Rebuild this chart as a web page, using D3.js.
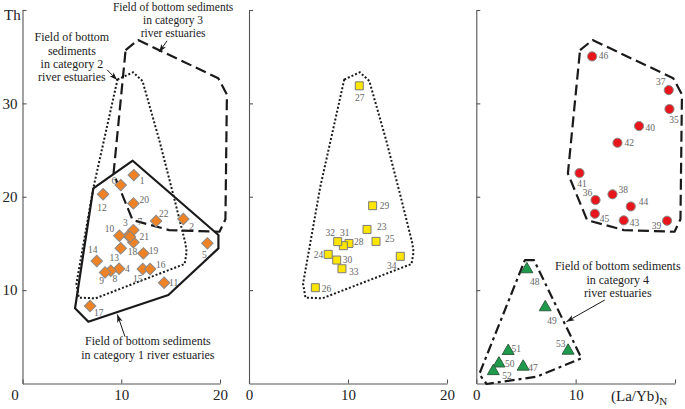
<!DOCTYPE html>
<html><head><meta charset="utf-8">
<script src="https://cdn.jsdelivr.net/npm/d3@7"></script>
<style>
body{margin:0;background:#fff}
svg{display:block}
text{font-family:"Liberation Serif","Times New Roman",serif}
</style>
</head><body>
<svg id="chart" width="685" height="409"></svg>
<script>
// ---------------- DATA ----------------
// Category 1 (orange diamonds) - left panel
const cat1Ids = [1,2,3,4,5,6,7,8,9,10,11,12,13,14,15,16,17,18,19,20,21,22];
const cat1X = [11.27,16.29,10.72,9.78,18.72,9.95,11.23,8.94,8.36,9.81,14.34,8.16,9.95,7.52,12.18,12.92,6.84,11.23,12.24,11.23,10.89,13.53];
const cat1Y = [22.32,17.61,15.82,12.29,15.01,21.25,16.43,12.08,11.90,15.82,10.79,20.26,14.48,13.12,12.26,12.26,8.30,15.12,13.94,19.29,15.72,17.40];
// Category 2 (yellow squares) - middle panel
const cat2Ids = [23,24,25,26,27,28,29,30,31,32,33,34];
const cat2X = [11.92,8.00,12.83,6.70,11.14,10.10,12.49,8.86,9.53,8.96,9.39,15.28];
const cat2Y = [16.50,13.83,15.22,10.26,31.88,15.00,19.04,13.22,14.76,15.19,12.29,13.62];
// Category 3 (red circles) - right panel
const cat3Ids = [35,36,37,38,39,40,41,42,43,44,45,46];
const cat3X = [19.44,12.00,19.37,13.71,19.20,16.38,10.39,14.21,14.84,15.55,11.93,11.66];
const cat3Y = [29.39,19.65,31.42,20.26,17.43,27.57,22.54,25.78,17.47,18.96,18.18,35.03];
// Category 4 (green triangles) - right panel
const cat4Ids = [47,48,49,50,51,52,53];
const cat4X = [4.72,5.09,6.94,2.28,3.21,1.71,9.24];
const cat4Y = [1.80,12.23,8.16,2.14,3.48,1.32,3.51];

// Field outlines (La/Yb)N, Th
const field1X = [11.16,19.84,19.84,14.77,6.67,5.32,7.17];
const field1Y = [23.86,15.90,14.47,9.48,6.62,8.05,20.90];
const field2X = [9.62,11.20,12.15,13.85,15.28,16.50,16.62,16.42,12.24,7.40,5.70,5.46,7.20];
const field2Y = [32.55,33.33,32.40,26.07,20.18,15.01,14.08,12.80,11.10,9.12,9.20,10.70,21.07];
const field3X = [10.44,11.70,19.82,20.70,20.55,19.95,14.85,11.15,9.22];
const field3Y = [35.70,36.78,32.70,30.95,17.60,16.25,16.43,17.50,22.50];
const field4X = [4.89,5.80,10.59,6.07,1.04,0.30];
const field4Y = [13.22,13.22,2.70,0.73,-0.05,1.00];

// Axis ticks
const xTicks = [0,10,20];
const yTicks = [10,20,30,40];
const yTickLabels = ["10","20","30",""];

// ---------------- LAYOUT / STYLE ----------------
const svg = d3.select("#chart");
const y = d3.scaleLinear().domain([0,40]).range([383.5,10]);
const xL = d3.scaleLinear().domain([0,20]).range([22.5,220]);
const xM = d3.scaleLinear().domain([0,20]).range([249,447]);
const xR = d3.scaleLinear().domain([0,20]).range([476.3,675]);

const AX = "#555";
const LINE = "#1a1a1a";
const LABEL = "#666";

// label placement (dx, dy, anchor) per sample id
const lab = {
 1:[6,6,"start"],2:[6,8,"start"],3:[-3,-13,"middle"],4:[6,0,"start"],5:[-3,11,"middle"],
 6:[-4.5,-4,"end"],7:[4,-8,"start"],8:[4,8,"middle"],9:[-3.5,8,"middle"],10:[-5,-7,"end"],
 11:[5,0,"start"],12:[-1,13,"middle"],13:[-6.5,9,"middle"],14:[-4,-11,"middle"],15:[-5,10,"middle"],
 16:[6,-4,"start"],17:[4,7,"start"],18:[-1,9,"middle"],19:[5.5,-3,"start"],20:[6,-4,"start"],
 21:[9.5,0,"start"],22:[3,-7,"start"],
 23:[10,-3,"start"],24:[-5,0,"end"],25:[9,-3,"start"],26:[6.5,0.5,"start"],27:[0.5,12,"middle"],
 28:[5,-2,"start"],29:[7,0,"start"],30:[6,0,"start"],31:[1.5,-13.5,"middle"],32:[-7.5,-8.5,"middle"],
 33:[7,3,"start"],34:[-8.5,9,"middle"],
 35:[4.5,11,"middle"],36:[-8,-7,"middle"],37:[-8,-8,"middle"],38:[6,-5,"start"],39:[-10.5,4.5,"middle"],
 40:[6.5,1.5,"start"],41:[2.5,11,"middle"],42:[7,0,"start"],43:[6,2.5,"start"],44:[8,-5,"start"],
 45:[5,4.5,"start"],46:[6.5,-1,"start"],
 47:[5,0.6,"start"],48:[8,12,"middle"],49:[6.7,13.5,"middle"],50:[6,0,"start"],51:[3.4,-2.7,"start"],
 52:[9,5,"start"],53:[-7.3,-7,"middle"]
};

// arrow marker
svg.append("defs").append("marker")
  .attr("id","arr").attr("viewBox","0 0 10 10").attr("refX",10).attr("refY",5)
  .attr("markerWidth",8).attr("markerHeight",8).attr("markerUnits","userSpaceOnUse")
  .attr("orient","auto")
  .append("path").attr("d","M0,1.5 L10,5 L0,8.5 L2.5,5 Z").attr("fill",LINE);

// ---------------- AXES ----------------
function axes(x, showYLabels, xLabelFn){
  const ya = d3.axisLeft(y).tickValues(yTicks).tickSize(-4).tickSizeOuter(0).tickPadding(5)
    .tickFormat((d,i)=> showYLabels ? yTickLabels[i] : "");
  const gy = svg.append("g").attr("transform",`translate(${x(0)},0)`).call(ya);
  const xa = d3.axisBottom(x).tickValues(xTicks).tickSize(-4).tickSizeOuter(0).tickPadding(6)
    .tickFormat(xLabelFn);
  const gx = svg.append("g").attr("transform",`translate(0,${y(0)})`).call(xa);
  [gy,gx].forEach(g=>{
    g.select(".domain").attr("stroke",AX).attr("stroke-width",1.1);
    g.selectAll(".tick line").attr("stroke",AX).attr("stroke-width",1.1);
    g.selectAll(".tick text").attr("fill","#222").style("font-size","15px")
      .style("font-family",'"Liberation Serif","Times New Roman",serif');
  });
  return gx;
}
const gxL = axes(xL, true, d=>String(d));
gxL.selectAll(".tick text").filter(d=>d===0).attr("x",-8);
axes(xM, false, d=>String(d));
axes(xR, false, d=> d===20 ? "" : String(d));

svg.append("text").attr("x",4).attr("y",20).attr("font-size",15).attr("fill","#222").text("Th");
const t = svg.append("text").attr("x",611).attr("y",400.5).attr("font-size",15).attr("fill","#222");
t.append("tspan").text("(La/Yb)");
t.append("tspan").attr("font-size",11).attr("dy",4).text("N");

// ---------------- FIELDS ----------------
function poly(xs, ys, sx, dash, w){
  const pts = xs.map((v,i)=>[sx(v), y(ys[i])]);
  svg.append("path").attr("d", d3.line().curve(d3.curveLinearClosed)(pts))
    .attr("fill","none").attr("stroke",LINE).attr("stroke-width",w||2)
    .attr("stroke-linejoin","round")
    .attr("stroke-dasharray",dash);
}
poly(field1X, field1Y, xL, null, 2.2);
poly(field2X, field2Y, xL, "2,2", 2);
poly(field3X, field3Y, xL, "11,5", 2.2);
poly(field2X, field2Y, xM, "2,2", 2);
poly(field3X, field3Y, xR, "11,5", 2.2);
poly(field4X, field4Y, xR, "10,4,3,4", 2.2);

// ---------------- POINTS ----------------
function pts(ids, xs, ys, sx, type, size, fill, stroke, rot){
  const data = ids.map((id,i)=>({id, x:xs[i], y:ys[i]}));
  const g = svg.append("g");
  g.selectAll("path").data(data).join("path")
    .attr("d", d3.symbol().type(type).size(size)())
    .attr("transform", d=>`translate(${sx(d.x)},${y(d.y)}) rotate(${rot||0})`)
    .attr("fill", fill).attr("stroke", stroke).attr("stroke-width",1);
  g.selectAll("text").data(data).join("text")
    .attr("x", d=>sx(d.x)+lab[d.id][0])
    .attr("y", d=>y(d.y)+lab[d.id][1])
    .attr("dy","0.35em")
    .attr("text-anchor", d=>lab[d.id][2])
    .attr("font-size",9.5).attr("fill",LABEL)
    .text(d=>d.id);
}
pts(cat1Ids, cat1X, cat1Y, xL, d3.symbolSquare, 66, "#f08226", "#8a8a8a", 45);
pts(cat2Ids, cat2X, cat2Y, xM, d3.symbolSquare, 64, "#ffe600", "#7a7a7a", 0);
pts(cat3Ids, cat3X, cat3Y, xR, d3.symbolCircle, 66, "#e8161c", "#8a8a8a", 0);
pts(cat4Ids, cat4X, cat4Y, xR, d3.symbolTriangle, 62, "#1e9a4c", "#2f5f3f", 0);

// ---------------- ANNOTATIONS ----------------
function note(lines, sx, cx, baselines, size){
  lines.forEach((s,i)=>{
    svg.append("text").attr("x",sx(cx)).attr("y",y(baselines[i])).attr("text-anchor","middle")
      .attr("font-size",size).attr("fill","#222").text(s);
  });
}
function arrow(sx, x1,y1,x2,y2){
  svg.append("line").attr("x1",sx(x1)).attr("y1",y(y1)).attr("x2",sx(x2)).attr("y2",y(y2))
    .attr("stroke",LINE).attr("stroke-width",1).attr("marker-end","url(#arr)");
}
note(["Field of bottom sediments","in category 3","river estuaries"], xL, 15.25, [39.88,38.51,37.14], 11.5);
arrow(xL, 14.64,36.7, 13.83,35.5);
note(["Field of bottom","sediments","in category 2","river estuaries"], xL, 5.0, [36.66,35.22,33.79,32.35], 12);
arrow(xL, 8.56,33.6, 9.58,32.5);
note(["Field of bottom sediments","in category 1 river estuaries"], xL, 12.7, [4.11,2.67], 12);
arrow(xL, 10.38,5.01, 9.6,7.4);
note(["Field of bottom sediments","in category 4","river estuaries"], xR, 14.24, [12.12,10.69,9.25], 12);
arrow(xR, 12.93,8.94, 9.07,6.62);
</script>
</body></html>
